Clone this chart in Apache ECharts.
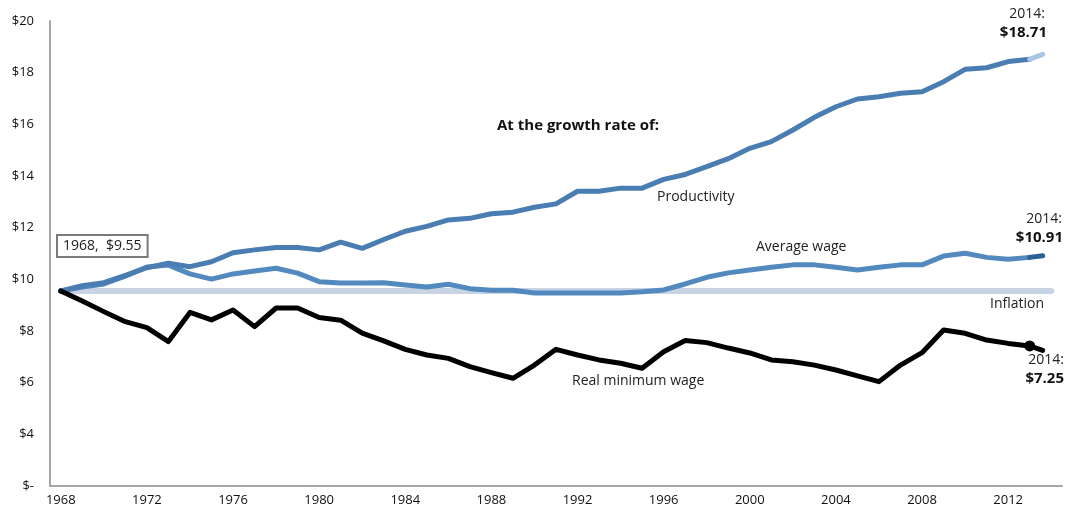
<!DOCTYPE html>
<html><head><meta charset="utf-8">
<script src="https://cdn.jsdelivr.net/npm/echarts@6/dist/echarts.min.js"></script>
<style>html,body{margin:0;padding:0;background:#fff}#c{width:1068px;height:513px}</style>
</head><body><div id="c"></div>
<script>
// ---- data ----
const years = [1968,1969,1970,1971,1972,1973,1974,1975,1976,1977,1978,1979,
  1980,1981,1982,1983,1984,1985,1986,1987,1988,1989,
  1990,1991,1992,1993,1994,1995,1996,1997,1998,1999,
  2000,2001,2002,2003,2004,2005,2006,2007,2008,2009,
  2010,2011,2012,2013,2014];
// the 2014 observation as plotted in the source (partial year)
const lastPlotX = 2013.6;

const productivity = [9.55,9.75,9.87,10.15,10.45,10.62,10.49,10.68,11.03,11.14,11.23,11.23,
  11.14,11.44,11.20,11.54,11.86,12.05,12.30,12.36,12.54,12.60,
  12.79,12.92,13.41,13.41,13.53,13.53,13.87,14.06,14.36,14.67,
  15.07,15.33,15.78,16.27,16.68,16.98,17.07,17.20,17.26,17.65,
  18.13,18.19,18.43,18.52,18.71];
const averageWage = [9.55,9.70,9.82,10.12,10.48,10.55,10.21,10.01,10.21,10.32,10.43,10.24,
  9.91,9.86,9.86,9.87,9.78,9.70,9.81,9.64,9.58,9.58,
  9.47,9.47,9.47,9.47,9.47,9.52,9.59,9.82,10.08,10.25,
  10.36,10.47,10.56,10.56,10.47,10.36,10.47,10.56,10.56,10.90,
  11.01,10.85,10.78,10.85,10.91];
const inflation = years.map(() => 9.55);
const minimumWage = [9.55,9.16,8.75,8.36,8.13,7.59,8.72,8.43,8.81,8.17,8.89,8.89,
  8.52,8.42,7.92,7.62,7.29,7.07,6.94,6.62,6.39,6.17,
  6.68,7.29,7.07,6.88,6.75,6.56,7.20,7.63,7.55,7.34,
  7.15,6.88,6.81,6.68,6.49,6.26,6.04,6.68,7.16,8.04,
  7.91,7.65,7.52,7.42,7.25];
const yTickLabels = {2:'$-',4:'$4',6:'$6',8:'$8',10:'$10',12:'$12',14:'$14',16:'$16',18:'$18',20:'$20'};

// ---- helpers ----
const n = years.length;
const plotX = years.map((y,i) => i === n-1 ? lastPlotX : y);
const pts = (arr, from, to) => arr.slice(from, to).map((v,k) => [plotX[from+k], v]);

const FONT = '"Open Sans", "Noto Sans", sans-serif';
const chart = echarts.init(document.getElementById('c'), null, {renderer:'canvas'});

function lineSeries(name, data, color, width, z) {
  return {
    name, type:'line', xAxisIndex:1, data, showSymbol:false, symbol:'none',
    lineStyle:{color, width, cap:'round', join:'round'}, z, silent:true, animation:false
  };
}

const option = {
  animation:false,
  grid:{left:50, right:6, top:21, bottom:27},
  xAxis:[
    { type:'category', data:years.map(String), boundaryGap:true,
      axisLine:{lineStyle:{color:'#a6a6a6', width:2}},
      axisTick:{interval:3, length:4, lineStyle:{color:'#a6a6a6', width:2}},
      axisLabel:{interval:3, color:'#111', fontSize:13, fontFamily:FONT, margin:8},
      splitLine:{show:false}
    },
    { type:'value', min:1967.5, max:2014.5, show:false }
  ],
  yAxis:{
    type:'value', min:2, max:20, interval:2,
    axisLine:{show:true, lineStyle:{color:'#a6a6a6', width:2}},
    axisTick:{show:false},
    splitLine:{show:false},
    axisLabel:{color:'#111', fontSize:13, fontFamily:FONT, margin:16,
      formatter:v => yTickLabels[v] || ''}
  },
  series:[
    lineSeries('Inflation', years.map((y,i)=>[y, inflation[i]]), '#c8d3e4', 6, 1),
    lineSeries('Average wage', pts(averageWage, 0, n-1), '#5289bf', 5, 2),
    lineSeries('Average wage 2014', pts(averageWage, n-2, n), '#2d5f98', 5, 2),
    lineSeries('Productivity', pts(productivity, 0, n-1), '#4a7db1', 5, 3),
    lineSeries('Productivity 2014', pts(productivity, n-2, n), '#a9c5e3', 5, 3),
    lineSeries('Real minimum wage', pts(minimumWage, 0, n), '#000000', 5, 4),
    { type:'scatter', xAxisIndex:1, data:[[plotX[n-2], minimumWage[n-2]]], symbol:'circle',
      symbolSize:11, itemStyle:{color:'#000', opacity:1}, z:5, silent:true }
  ],
  graphic:[
    { type:'text', left:56, top:234, z:10, style:{ text:'1968,  $9.55', font:'14px '+FONT, fill:'#222',
      backgroundColor:'#fff', borderColor:'#7a7a7a', borderWidth:2, padding:[3,5,3,5] } },
    { type:'text', left:497, top:118, style:{ text:'At the growth rate of:', font:'bold 15px '+FONT, fill:'#111' } },
    { type:'text', left:657, top:190, style:{ text:'Productivity', font:'14px '+FONT, fill:'#222' } },
    { type:'text', left:756, top:240, style:{ text:'Average wage', font:'14px '+FONT, fill:'#222' } },
    { type:'text', left:990, top:297, style:{ text:'Inflation', font:'14px '+FONT, fill:'#222' } },
    { type:'text', left:572, top:374, style:{ text:'Real minimum wage', font:'14px '+FONT, fill:'#222' } },
    { type:'text', right:23, top:7, style:{ text:'2014:', font:'14px '+FONT, fill:'#222' } },
    { type:'text', right:21, top:25, style:{ text:'$18.71', font:'bold 15px '+FONT, fill:'#111' } },
    { type:'text', right:6, top:212, style:{ text:'2014:', font:'14px '+FONT, fill:'#222' } },
    { type:'text', right:5, top:230, style:{ text:'$10.91', font:'bold 15px '+FONT, fill:'#111' } },
    { type:'text', right:4, top:353, style:{ text:'2014:', font:'14px '+FONT, fill:'#222' } },
    { type:'text', right:4, top:371, style:{ text:'$7.25', font:'bold 15px '+FONT, fill:'#111' } }
  ]
};
chart.setOption(option);
</script></body></html>
